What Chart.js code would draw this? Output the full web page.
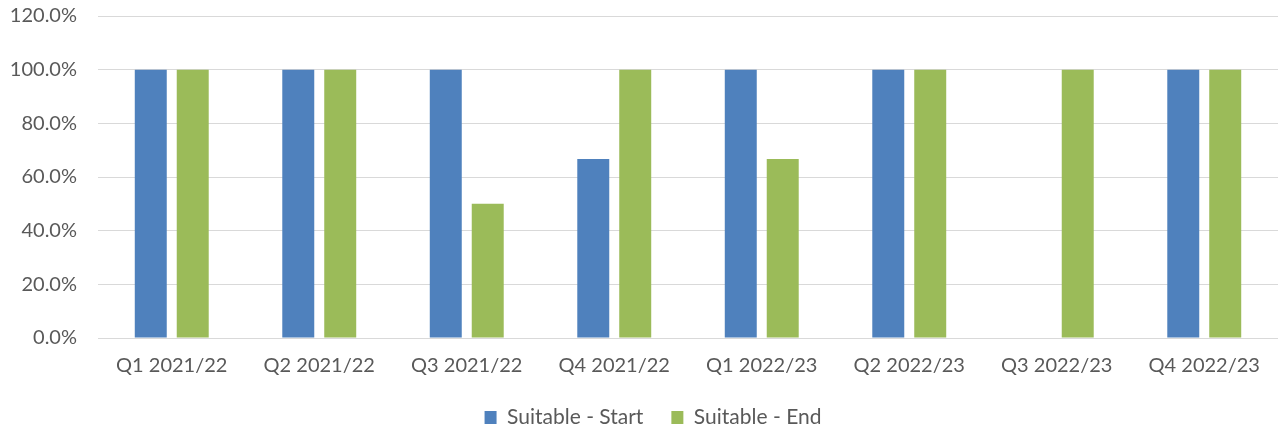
<!DOCTYPE html>
<html>
<head>
<meta charset="utf-8">
<script src="https://cdn.jsdelivr.net/npm/chart.js@4/dist/chart.umd.min.js"></script>
<style>
html,body{margin:0;padding:0;background:#fff;}
#wrap{width:1278px;height:428px;position:relative;}
</style>
</head>
<body>
<div id="wrap"><canvas id="c"></canvas></div>
<script>
const categories = ["Q1 2021/22","Q2 2021/22","Q3 2021/22","Q4 2021/22","Q1 2022/23","Q2 2022/23","Q3 2022/23","Q4 2022/23"];
const suitableStart = [100, 100, 100, 66.7, 100, 100, 0, 100];
const suitableEnd = [100, 100, 50, 100, 66.7, 100, 100, 100];
const yTicks = [0, 20, 40, 60, 80, 100, 120];

const FONT = "Lato";
const TXT = "#595959";

const shiftLegend = {
  id: 'shiftLegend',
  afterLayout(chart) {
    const l = chart.legend;
    if (l) { l.left += 14; l.right += 14; }
  }
};

new Chart(document.getElementById('c'), {
  type: 'bar',
  data: {
    labels: categories,
    datasets: [
      { label: 'Suitable - Start', data: suitableStart, backgroundColor: '#4F81BD', borderWidth: 0 },
      { label: 'Suitable - End', data: suitableEnd, backgroundColor: '#9BBB59', borderWidth: 0 }
    ]
  },
  plugins: [shiftLegend],
  options: {
    responsive: true,
    maintainAspectRatio: false,
    animation: false,
    devicePixelRatio: 1,
    layout: { padding: { top: 16, right: 0, left: 0, bottom: -10 } },
    datasets: { bar: { categoryPercentage: 0.569, barPercentage: 0.762 } },
    plugins: {
      legend: {
        position: 'bottom',
        labels: { font: { family: FONT, size: 21 }, color: TXT, boxWidth: 12, boxHeight: 13, padding: 28 }
      },
      tooltip: { enabled: false }
    },
    scales: {
      x: {
        grid: { display: false, drawTicks: false },
        border: { display: true, color: '#d9d9d9', width: 1 },
        ticks: { font: { family: FONT, size: 20 }, color: TXT, padding: 16, maxRotation: 0, autoSkip: false },
        afterFit: s => { s.height = 41; s.paddingLeft = 0; s.paddingRight = 0; }
      },
      y: {
        min: 0, max: 120,
        afterBuildTicks: s => { s.ticks = yTicks.map(v => ({ value: v })); },
        grid: { color: '#d9d9d9', lineWidth: 1, drawTicks: false },
        border: { display: false },
        ticks: { font: { family: FONT, size: 20 }, color: TXT, padding: 21, callback: v => v.toFixed(1) + '%' },
        afterFit: s => { s.width = 98; s.paddingTop = 0; s.paddingBottom = 0; }
      }
    }
  }
});
</script>
</body>
</html>
